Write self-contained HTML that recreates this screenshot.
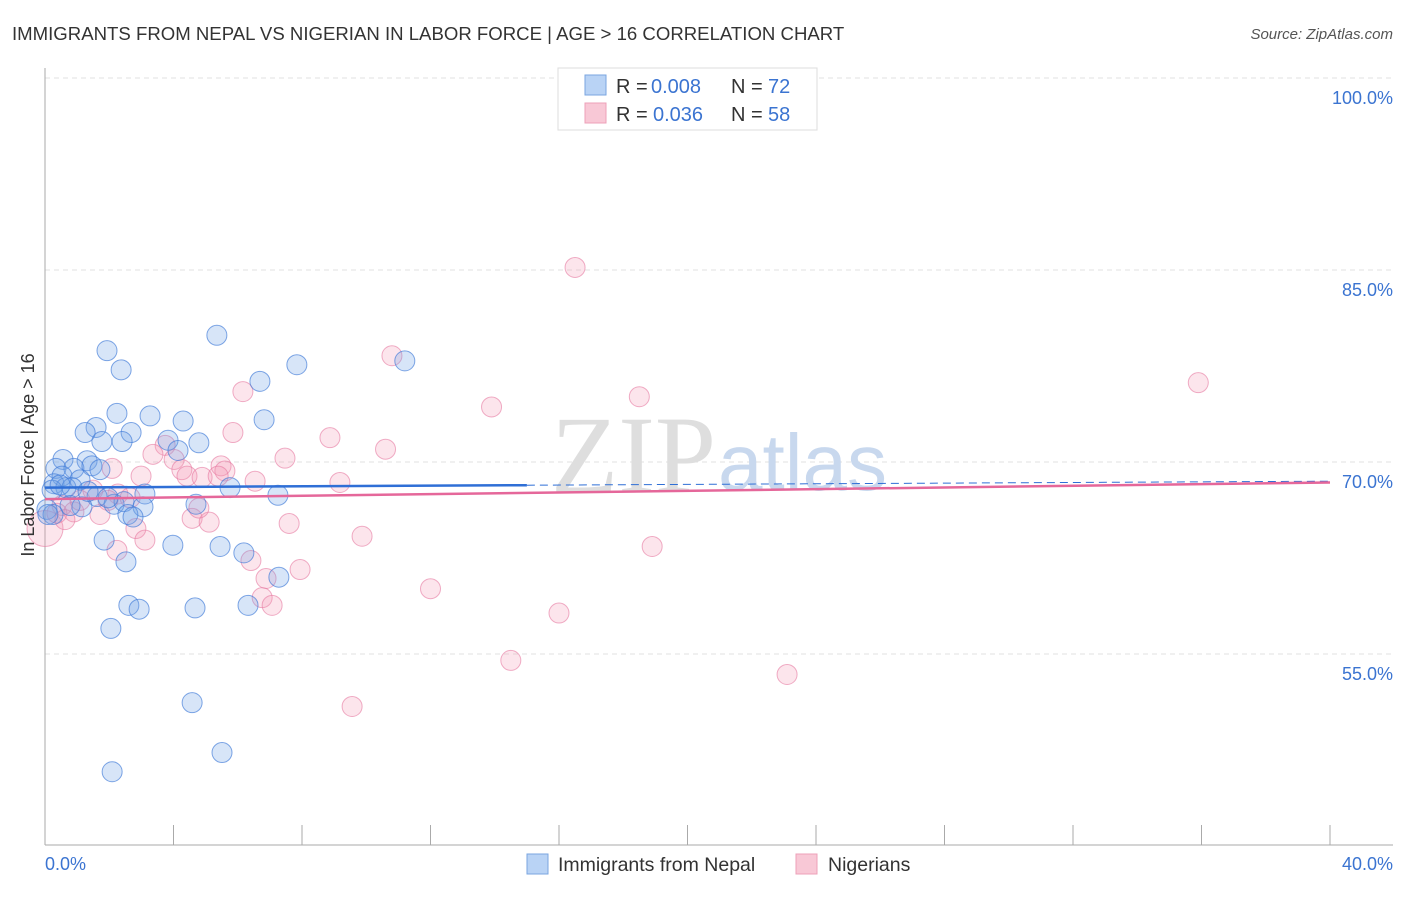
<!DOCTYPE html>
<html><head><meta charset="utf-8"><style>
body{margin:0;background:#fff;font-family:"Liberation Sans",sans-serif;}
</style></head><body>
<svg width="1406" height="892" xmlns="http://www.w3.org/2000/svg">
<text x="12" y="40" font-size="18.6" fill="#333">IMMIGRANTS FROM NEPAL VS NIGERIAN IN LABOR FORCE | AGE &gt; 16 CORRELATION CHART</text>
<text x="1393" y="39" font-size="15" fill="#555" font-style="italic" text-anchor="end">Source: ZipAtlas.com</text>
<g id="grid"></g>
<text x="716" y="492" font-size="110" fill="#dedede" font-family="Liberation Serif" text-anchor="end">ZIP</text>
<text x="718" y="490" font-size="80" fill="#c8d8ee">atlas</text>
<g id="marks"></g>
<text transform="translate(34,455) rotate(-90)" font-size="18" fill="#333" text-anchor="middle">In Labor Force | Age &gt; 16</text>
<text x="45" y="870" font-size="18" fill="#3b74d1">0.0%</text>
<text x="1393" y="870" font-size="18" fill="#3b74d1" text-anchor="end">40.0%</text>
<g>
<rect x="558" y="68" width="259" height="62" fill="#fff" stroke="#ddd"/>
<rect x="585" y="75" width="21" height="20" fill="#b9d3f5" stroke="#7aa6e0"/>
<rect x="585" y="103" width="21" height="20" fill="#f8c8d6" stroke="#eea0b8"/>
<text x="616" y="93" font-size="20" fill="#333">R =</text>
<text x="651" y="93" font-size="20" fill="#3b74d1">0.008</text>
<text x="731" y="93" font-size="20" fill="#333">N =</text>
<text x="768" y="93" font-size="20" fill="#3b74d1">72</text>
<text x="616" y="121" font-size="20" fill="#333">R =</text>
<text x="653" y="121" font-size="20" fill="#3b74d1">0.036</text>
<text x="731" y="121" font-size="20" fill="#333">N =</text>
<text x="768" y="121" font-size="20" fill="#3b74d1">58</text>
</g>
<g>
<rect x="527" y="854" width="21" height="20" fill="#b9d3f5" stroke="#7aa6e0"/>
<text x="558" y="871" font-size="19.5" fill="#333">Immigrants from Nepal</text>
<rect x="796" y="854" width="21" height="20" fill="#f8c8d6" stroke="#eea0b8"/>
<text x="828" y="871" font-size="19.5" fill="#333">Nigerians</text>
</g>
</svg>
<script>
const yTicks=[100,85,70,55];
const xTickVals=[0,4,8,12,16,20,24,28,32,36,40];
const nepalX=[5.35,1.93,2.37,7.84,11.2,6.69,2.24,3.27,4.30,6.82,1.59,1.25,2.68,1.77,2.40,3.83,4.79,4.14,0.56,1.31,0.34,0.90,1.46,1.71,0.53,1.09,0.28,0.65,0.84,0.22,1.62,3.11,5.76,7.25,2.15,2.46,3.05,1.15,0.78,0.06,0.25,2.58,2.74,4.70,1.84,5.45,3.98,6.19,2.52,7.28,2.61,2.93,4.67,6.32,2.05,4.58,5.51,2.09,0.09,0.47,1.34,1.96];
const nepalY=[79.9,78.7,77.2,77.6,77.9,76.3,73.8,73.6,73.2,73.3,72.7,72.3,72.3,71.6,71.6,71.7,71.5,70.9,70.2,70.1,69.5,69.5,69.7,69.4,68.9,68.6,68.3,68.0,68.0,67.8,67.3,67.5,68.0,67.4,66.7,66.9,66.5,66.5,66.6,66.3,65.9,65.9,65.7,66.7,63.9,63.4,63.5,62.9,62.2,61.0,58.8,58.5,58.6,58.8,57.0,51.2,47.3,45.8,65.9,68.2,67.7,67.2];
const nigX=[16.5,10.8,6.16,13.9,18.5,35.9,5.85,8.87,10.6,3.74,3.36,4.02,7.47,2.09,4.26,4.42,5.48,5.60,2.99,4.89,5.39,9.18,6.54,1.49,2.27,2.65,1.96,0.53,0.0,0.37,0.90,4.58,5.11,4.79,2.83,3.11,7.60,9.87,2.24,6.41,7.94,6.88,6.76,7.07,12.0,16.0,18.9,14.5,23.1,9.56,1.09,0.62,1.71];
const nigY=[85.2,78.3,75.5,74.3,75.1,76.2,72.3,71.9,71.0,71.3,70.6,70.2,70.3,69.5,69.4,68.9,69.7,69.3,68.9,68.8,68.9,68.4,68.5,67.8,67.5,67.2,67.0,66.6,64.8,66.0,66.1,65.6,65.3,66.4,64.8,63.9,65.2,64.2,63.1,62.3,61.6,60.9,59.4,58.8,60.1,58.2,63.4,54.5,53.4,50.9,67.0,65.5,65.9];
const nepalTrend=[68.0,68.5];
const nigTrend=[67.1,68.4];
const NS="http://www.w3.org/2000/svg";
const sx=v=>45+v/40*1285, sy=v=>78+(100-v)*12.8;
function mk(t,a,p){const e=document.createElementNS(NS,t);for(const k in a)e.setAttribute(k,a[k]);p.appendChild(e);return e;}
const grid=document.getElementById('grid'), marks=document.getElementById('marks');
yTicks.forEach(v=>{
  const l=mk('line',{x1:45,x2:1393,y1:sy(v),y2:sy(v),stroke:'#e0e0e0','stroke-dasharray':'5,4'},grid);
  
  
  const t=mk('text',{x:1393,y:sy(v)+26,'font-size':18,fill:'#3b74d1','text-anchor':'end'},grid);
  t.textContent=v.toFixed(1)+'%';
  
  
});
const ax=mk('line',{x1:45,x2:45,y1:68,y2:845,stroke:'#aaa'},grid);


const bx=mk('line',{x1:45,x2:1393,y1:845,y2:845,stroke:'#aaa'},grid);


xTickVals.forEach(v=>{
  const t=mk('line',{x1:sx(v),x2:sx(v),y1:825,y2:845,stroke:'#aaa'},grid);
  
  
});
nigX.forEach((x,i)=>{
  const c=mk('circle',{cx:sx(x),cy:sy(nigY[i]),r:(x===0?18:10),fill:'rgba(244,150,180,0.25)',stroke:'rgba(230,120,160,0.6)','stroke-width':1},marks);
  
  
});
nepalX.forEach((x,i)=>{
  const c=mk('circle',{cx:sx(x),cy:sy(nepalY[i]),r:10,fill:'rgba(110,160,230,0.28)',stroke:'rgba(60,120,215,0.65)','stroke-width':1},marks);
  
  
});
const yAt=(tr,x)=>tr[0]+(tr[1]-tr[0])*x/40;
let l1=mk('line',{x1:sx(0),y1:sy(yAt(nepalTrend,0)),x2:sx(15),y2:sy(yAt(nepalTrend,15)),stroke:'#2f6fd6','stroke-width':2.5},marks);


let l2=mk('line',{x1:sx(15),y1:sy(yAt(nepalTrend,15)),x2:sx(40),y2:sy(yAt(nepalTrend,40)),stroke:'#2f6fd6','stroke-width':1,'stroke-dasharray':'8,5'},marks);


let l3=mk('line',{x1:sx(0),y1:sy(yAt(nigTrend,0)),x2:sx(40),y2:sy(yAt(nigTrend,40)),stroke:'#e5679a','stroke-width':2.5},marks);


</script>
</body></html>
